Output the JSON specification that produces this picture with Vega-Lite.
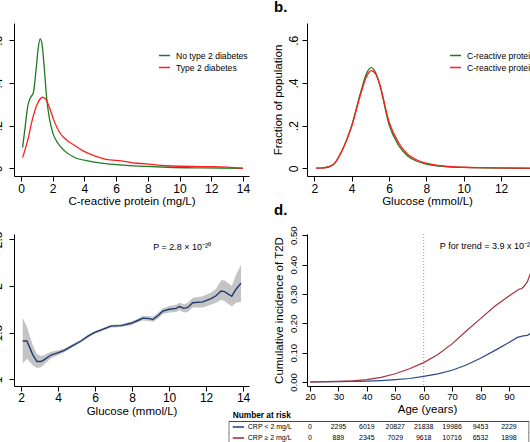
{
"$schema": "https://vega.github.io/schema/vega-lite/v6.json",
"background": "white",
"padding": {"left": -9, "top": 0, "right": 0, "bottom": 0},
"columns": 2,
"spacing": {"row": 58, "column": 58},
"bounds": "flush",
"resolve": {"scale": {"color": "independent"}, "legend": {"color": "independent"}},
"config": {
  "view": {"stroke": null},
  "font": "Liberation Sans",
  "axis": {"grid": false, "domainColor": "#000", "tickColor": "#000", "labelColor": "#000", "titleColor": "#000", "labelFont": "Liberation Sans", "titleFont": "Liberation Sans", "titleFontWeight": "normal", "labelFontSize": 12, "titleFontSize": 11.5, "tickSize": 5, "labelPadding": 2, "titlePadding": 1, "labelOverlap": false, "labelFlush": false, "labelSeparation": 0},
  "axisY": {"titlePadding": 4},
  "legend": {"orient": "none", "title": null, "symbolType": "stroke", "symbolSize": 121, "symbolStrokeWidth": 1.5, "labelFontSize": 8.6, "labelFont": "Liberation Sans", "labelColor": "#000", "labelOffset": 5, "rowPadding": 0, "padding": 0}
},
"datasets": {
  "crp": [
    {"grp": "No type 2 diabetes", "crp": 0.1, "dens": 0.097},
    {"grp": "No type 2 diabetes", "crp": 0.27, "dens": 0.198},
    {"grp": "No type 2 diabetes", "crp": 0.42, "dens": 0.288},
    {"grp": "No type 2 diabetes", "crp": 0.6, "dens": 0.331},
    {"grp": "No type 2 diabetes", "crp": 0.78, "dens": 0.354},
    {"grp": "No type 2 diabetes", "crp": 0.95, "dens": 0.46},
    {"grp": "No type 2 diabetes", "crp": 1.09, "dens": 0.565},
    {"grp": "No type 2 diabetes", "crp": 1.21, "dens": 0.607},
    {"grp": "No type 2 diabetes", "crp": 1.32, "dens": 0.585},
    {"grp": "No type 2 diabetes", "crp": 1.47, "dens": 0.47},
    {"grp": "No type 2 diabetes", "crp": 1.62, "dens": 0.33},
    {"grp": "No type 2 diabetes", "crp": 1.79, "dens": 0.235},
    {"grp": "No type 2 diabetes", "crp": 2.0, "dens": 0.167},
    {"grp": "No type 2 diabetes", "crp": 2.31, "dens": 0.12},
    {"grp": "No type 2 diabetes", "crp": 2.73, "dens": 0.083},
    {"grp": "No type 2 diabetes", "crp": 3.36, "dens": 0.052},
    {"grp": "No type 2 diabetes", "crp": 4.31, "dens": 0.034},
    {"grp": "No type 2 diabetes", "crp": 5.36, "dens": 0.022},
    {"grp": "No type 2 diabetes", "crp": 6.62, "dens": 0.014},
    {"grp": "No type 2 diabetes", "crp": 7.88, "dens": 0.009},
    {"grp": "No type 2 diabetes", "crp": 9.25, "dens": 0.005},
    {"grp": "No type 2 diabetes", "crp": 11.35, "dens": 0.002},
    {"grp": "No type 2 diabetes", "crp": 14, "dens": 0.0},
    {"grp": "Type 2 diabetes", "crp": 0.1, "dens": 0.05},
    {"grp": "Type 2 diabetes", "crp": 0.42, "dens": 0.13},
    {"grp": "Type 2 diabetes", "crp": 0.74, "dens": 0.235},
    {"grp": "Type 2 diabetes", "crp": 1.05, "dens": 0.305},
    {"grp": "Type 2 diabetes", "crp": 1.37, "dens": 0.333},
    {"grp": "Type 2 diabetes", "crp": 1.58, "dens": 0.322},
    {"grp": "Type 2 diabetes", "crp": 1.79, "dens": 0.286},
    {"grp": "Type 2 diabetes", "crp": 2.1, "dens": 0.22},
    {"grp": "Type 2 diabetes", "crp": 2.42, "dens": 0.17},
    {"grp": "Type 2 diabetes", "crp": 2.84, "dens": 0.135},
    {"grp": "Type 2 diabetes", "crp": 3.36, "dens": 0.108},
    {"grp": "Type 2 diabetes", "crp": 3.89, "dens": 0.083},
    {"grp": "Type 2 diabetes", "crp": 4.73, "dens": 0.056},
    {"grp": "Type 2 diabetes", "crp": 5.36, "dens": 0.042},
    {"grp": "Type 2 diabetes", "crp": 6.41, "dens": 0.034},
    {"grp": "Type 2 diabetes", "crp": 7.04, "dens": 0.026},
    {"grp": "Type 2 diabetes", "crp": 7.88, "dens": 0.021},
    {"grp": "Type 2 diabetes", "crp": 9.25, "dens": 0.012},
    {"grp": "Type 2 diabetes", "crp": 11.35, "dens": 0.008},
    {"grp": "Type 2 diabetes", "crp": 13.0, "dens": 0.006},
    {"grp": "Type 2 diabetes", "crp": 14, "dens": 0.001}
  ],
  "glu": [
    {"grp": "C-reactive protein < 2 mg/L", "g": 2.1, "dens": 0.001},
    {"grp": "C-reactive protein < 2 mg/L", "g": 2.5, "dens": 0.002},
    {"grp": "C-reactive protein < 2 mg/L", "g": 3.0, "dens": 0.016},
    {"grp": "C-reactive protein < 2 mg/L", "g": 3.5, "dens": 0.085},
    {"grp": "C-reactive protein < 2 mg/L", "g": 4.0, "dens": 0.2},
    {"grp": "C-reactive protein < 2 mg/L", "g": 4.5, "dens": 0.362},
    {"grp": "C-reactive protein < 2 mg/L", "g": 4.8, "dens": 0.445},
    {"grp": "C-reactive protein < 2 mg/L", "g": 5.05, "dens": 0.472},
    {"grp": "C-reactive protein < 2 mg/L", "g": 5.3, "dens": 0.445},
    {"grp": "C-reactive protein < 2 mg/L", "g": 5.5, "dens": 0.393},
    {"grp": "C-reactive protein < 2 mg/L", "g": 6.0, "dens": 0.205},
    {"grp": "C-reactive protein < 2 mg/L", "g": 6.5, "dens": 0.11},
    {"grp": "C-reactive protein < 2 mg/L", "g": 7.0, "dens": 0.058},
    {"grp": "C-reactive protein < 2 mg/L", "g": 7.5, "dens": 0.033},
    {"grp": "C-reactive protein < 2 mg/L", "g": 8.0, "dens": 0.02},
    {"grp": "C-reactive protein < 2 mg/L", "g": 9.0, "dens": 0.008},
    {"grp": "C-reactive protein < 2 mg/L", "g": 10.0, "dens": 0.004},
    {"grp": "C-reactive protein < 2 mg/L", "g": 11.0, "dens": 0.002},
    {"grp": "C-reactive protein < 2 mg/L", "g": 12.0, "dens": 0.001},
    {"grp": "C-reactive protein < 2 mg/L", "g": 14.0, "dens": 0.0},
    {"grp": "C-reactive protein ≥ 2 mg/L", "g": 2.1, "dens": 0.001},
    {"grp": "C-reactive protein ≥ 2 mg/L", "g": 2.5, "dens": 0.002},
    {"grp": "C-reactive protein ≥ 2 mg/L", "g": 3.0, "dens": 0.017},
    {"grp": "C-reactive protein ≥ 2 mg/L", "g": 3.5, "dens": 0.086},
    {"grp": "C-reactive protein ≥ 2 mg/L", "g": 4.0, "dens": 0.196},
    {"grp": "C-reactive protein ≥ 2 mg/L", "g": 4.5, "dens": 0.352},
    {"grp": "C-reactive protein ≥ 2 mg/L", "g": 4.8, "dens": 0.43},
    {"grp": "C-reactive protein ≥ 2 mg/L", "g": 5.05, "dens": 0.458},
    {"grp": "C-reactive protein ≥ 2 mg/L", "g": 5.3, "dens": 0.44},
    {"grp": "C-reactive protein ≥ 2 mg/L", "g": 5.5, "dens": 0.395},
    {"grp": "C-reactive protein ≥ 2 mg/L", "g": 6.0, "dens": 0.218},
    {"grp": "C-reactive protein ≥ 2 mg/L", "g": 6.5, "dens": 0.122},
    {"grp": "C-reactive protein ≥ 2 mg/L", "g": 7.0, "dens": 0.066},
    {"grp": "C-reactive protein ≥ 2 mg/L", "g": 7.5, "dens": 0.039},
    {"grp": "C-reactive protein ≥ 2 mg/L", "g": 8.0, "dens": 0.024},
    {"grp": "C-reactive protein ≥ 2 mg/L", "g": 9.0, "dens": 0.01},
    {"grp": "C-reactive protein ≥ 2 mg/L", "g": 10.0, "dens": 0.005},
    {"grp": "C-reactive protein ≥ 2 mg/L", "g": 11.0, "dens": 0.003},
    {"grp": "C-reactive protein ≥ 2 mg/L", "g": 12.0, "dens": 0.002},
    {"grp": "C-reactive protein ≥ 2 mg/L", "g": 14.0, "dens": 0.0}
  ],
  "orc": [
    {"g": 2.09, "est": 1.41, "lo": 1.17, "hi": 1.66},
    {"g": 2.32, "est": 1.41, "lo": 1.22, "hi": 1.56},
    {"g": 2.63, "est": 1.265, "lo": 1.15, "hi": 1.37},
    {"g": 2.86, "est": 1.19, "lo": 1.12, "hi": 1.27},
    {"g": 3.08, "est": 1.19, "lo": 1.13, "hi": 1.25},
    {"g": 3.26, "est": 1.21, "lo": 1.16, "hi": 1.26},
    {"g": 3.62, "est": 1.26, "lo": 1.225, "hi": 1.295},
    {"g": 4.02, "est": 1.285, "lo": 1.26, "hi": 1.31},
    {"g": 4.34, "est": 1.31, "lo": 1.29, "hi": 1.33},
    {"g": 4.79, "est": 1.36, "lo": 1.342, "hi": 1.378},
    {"g": 5.24, "est": 1.41, "lo": 1.395, "hi": 1.425},
    {"g": 5.6, "est": 1.46, "lo": 1.445, "hi": 1.475},
    {"g": 5.96, "est": 1.5, "lo": 1.485, "hi": 1.515},
    {"g": 6.41, "est": 1.535, "lo": 1.52, "hi": 1.55},
    {"g": 6.86, "est": 1.57, "lo": 1.555, "hi": 1.585},
    {"g": 7.41, "est": 1.575, "lo": 1.56, "hi": 1.59},
    {"g": 7.95, "est": 1.6, "lo": 1.58, "hi": 1.62},
    {"g": 8.31, "est": 1.63, "lo": 1.61, "hi": 1.65},
    {"g": 8.58, "est": 1.655, "lo": 1.63, "hi": 1.68},
    {"g": 8.94, "est": 1.65, "lo": 1.625, "hi": 1.675},
    {"g": 9.12, "est": 1.64, "lo": 1.615, "hi": 1.67},
    {"g": 9.39, "est": 1.68, "lo": 1.65, "hi": 1.71},
    {"g": 9.66, "est": 1.73, "lo": 1.7, "hi": 1.76},
    {"g": 10.02, "est": 1.75, "lo": 1.715, "hi": 1.785},
    {"g": 10.38, "est": 1.76, "lo": 1.72, "hi": 1.8},
    {"g": 10.56, "est": 1.78, "lo": 1.74, "hi": 1.82},
    {"g": 10.8, "est": 1.76, "lo": 1.715, "hi": 1.805},
    {"g": 11.01, "est": 1.77, "lo": 1.72, "hi": 1.82},
    {"g": 11.28, "est": 1.82, "lo": 1.77, "hi": 1.87},
    {"g": 11.82, "est": 1.83, "lo": 1.77, "hi": 1.89},
    {"g": 12.27, "est": 1.865, "lo": 1.8, "hi": 1.93},
    {"g": 12.54, "est": 1.895, "lo": 1.82, "hi": 1.97},
    {"g": 12.81, "est": 1.945, "lo": 1.85, "hi": 2.06},
    {"g": 12.99, "est": 1.94, "lo": 1.84, "hi": 2.06},
    {"g": 13.39, "est": 1.89, "lo": 1.78, "hi": 2.0},
    {"g": 13.62, "est": 1.965, "lo": 1.82, "hi": 2.12},
    {"g": 13.89, "est": 2.03, "lo": 1.83, "hi": 2.23}
  ],
  "inc": [
    {"grp": "CRP < 2 mg/L", "age": 20, "ci": 0.0},
    {"grp": "CRP < 2 mg/L", "age": 30, "ci": 0.001},
    {"grp": "CRP < 2 mg/L", "age": 40, "ci": 0.003},
    {"grp": "CRP < 2 mg/L", "age": 45, "ci": 0.005},
    {"grp": "CRP < 2 mg/L", "age": 50, "ci": 0.008},
    {"grp": "CRP < 2 mg/L", "age": 55, "ci": 0.012},
    {"grp": "CRP < 2 mg/L", "age": 60, "ci": 0.019},
    {"grp": "CRP < 2 mg/L", "age": 65, "ci": 0.028},
    {"grp": "CRP < 2 mg/L", "age": 70, "ci": 0.04},
    {"grp": "CRP < 2 mg/L", "age": 75, "ci": 0.058},
    {"grp": "CRP < 2 mg/L", "age": 80, "ci": 0.081},
    {"grp": "CRP < 2 mg/L", "age": 85, "ci": 0.107},
    {"grp": "CRP < 2 mg/L", "age": 90, "ci": 0.135},
    {"grp": "CRP < 2 mg/L", "age": 93, "ci": 0.152},
    {"grp": "CRP < 2 mg/L", "age": 95, "ci": 0.157},
    {"grp": "CRP < 2 mg/L", "age": 96.5, "ci": 0.159},
    {"grp": "CRP < 2 mg/L", "age": 98, "ci": 0.168},
    {"grp": "CRP < 2 mg/L", "age": 100, "ci": 0.175},
    {"grp": "CRP ≥ 2 mg/L", "age": 20, "ci": 0.0},
    {"grp": "CRP ≥ 2 mg/L", "age": 25, "ci": 0.001},
    {"grp": "CRP ≥ 2 mg/L", "age": 30, "ci": 0.002},
    {"grp": "CRP ≥ 2 mg/L", "age": 35, "ci": 0.004},
    {"grp": "CRP ≥ 2 mg/L", "age": 40, "ci": 0.008},
    {"grp": "CRP ≥ 2 mg/L", "age": 45, "ci": 0.016},
    {"grp": "CRP ≥ 2 mg/L", "age": 50, "ci": 0.028},
    {"grp": "CRP ≥ 2 mg/L", "age": 55, "ci": 0.045},
    {"grp": "CRP ≥ 2 mg/L", "age": 60, "ci": 0.066},
    {"grp": "CRP ≥ 2 mg/L", "age": 65, "ci": 0.094},
    {"grp": "CRP ≥ 2 mg/L", "age": 70, "ci": 0.13},
    {"grp": "CRP ≥ 2 mg/L", "age": 75, "ci": 0.174},
    {"grp": "CRP ≥ 2 mg/L", "age": 80, "ci": 0.216},
    {"grp": "CRP ≥ 2 mg/L", "age": 85, "ci": 0.258},
    {"grp": "CRP ≥ 2 mg/L", "age": 90, "ci": 0.293},
    {"grp": "CRP ≥ 2 mg/L", "age": 92, "ci": 0.306},
    {"grp": "CRP ≥ 2 mg/L", "age": 93.5, "ci": 0.316},
    {"grp": "CRP ≥ 2 mg/L", "age": 94.5, "ci": 0.318},
    {"grp": "CRP ≥ 2 mg/L", "age": 95.5, "ci": 0.328},
    {"grp": "CRP ≥ 2 mg/L", "age": 96.5, "ci": 0.342},
    {"grp": "CRP ≥ 2 mg/L", "age": 97.5, "ci": 0.368},
    {"grp": "CRP ≥ 2 mg/L", "age": 98.5, "ci": 0.4},
    {"grp": "CRP ≥ 2 mg/L", "age": 100, "ci": 0.45}
  ],
  "risk": [
    {"grp": "CRP < 2 mg/L", "age": 20, "n": "0"},
    {"grp": "CRP < 2 mg/L", "age": 30, "n": "2295"},
    {"grp": "CRP < 2 mg/L", "age": 40, "n": "6019"},
    {"grp": "CRP < 2 mg/L", "age": 50, "n": "20827"},
    {"grp": "CRP < 2 mg/L", "age": 60, "n": "21838"},
    {"grp": "CRP < 2 mg/L", "age": 70, "n": "19986"},
    {"grp": "CRP < 2 mg/L", "age": 80, "n": "9453"},
    {"grp": "CRP < 2 mg/L", "age": 90, "n": "2229"},
    {"grp": "CRP ≥ 2 mg/L", "age": 20, "n": "0"},
    {"grp": "CRP ≥ 2 mg/L", "age": 30, "n": "889"},
    {"grp": "CRP ≥ 2 mg/L", "age": 40, "n": "2345"},
    {"grp": "CRP ≥ 2 mg/L", "age": 50, "n": "7029"},
    {"grp": "CRP ≥ 2 mg/L", "age": 60, "n": "9618"},
    {"grp": "CRP ≥ 2 mg/L", "age": 70, "n": "10716"},
    {"grp": "CRP ≥ 2 mg/L", "age": 80, "n": "6532"},
    {"grp": "CRP ≥ 2 mg/L", "age": 90, "n": "1898"}
  ],
  "rows": [
    {"grp": "CRP < 2 mg/L"},
    {"grp": "CRP ≥ 2 mg/L"}
  ]
},
"concat": [
  {
    "width": 235, "height": 153,
    "data": {"name": "crp"},
    "mark": {"type": "line", "interpolate": "monotone", "strokeWidth": 1.3},
    "encoding": {
      "x": {"field": "crp", "type": "quantitative", "scale": {"domain": [-0.44, 14.38], "nice": false, "zero": false}, "axis": {"values": [0, 2, 4, 6, 8, 10, 12, 14], "title": "C-reactive protein (mg/L)"}},
      "y": {"field": "dens", "type": "quantitative", "scale": {"domain": [-0.036, 0.681], "nice": false, "zero": false}, "axis": {"values": [0, 0.2, 0.4, 0.6], "labelExpr": "datum.value == 0 ? '0' : replace(format(datum.value, '.1f'), '0.', '.')", "title": null, "labelPadding": 5, "labelAngle": 270, "labelAlign": "center", "labelBaseline": "bottom"}},
      "color": {"field": "grp", "type": "nominal", "scale": {"domain": ["No type 2 diabetes", "Type 2 diabetes"], "range": ["#1f7a22", "#ff1f1f"]}, "legend": {"legendX": 144, "legendY": 26}}
    }
  },
  {
    "width": 240, "height": 153,
    "title": {"text": "b.", "anchor": "start", "frame": "group", "dx": -33, "fontSize": 15, "fontWeight": "bold", "font": "Liberation Sans", "offset": 8, "color": "#000"},
    "data": {"name": "glu"},
    "mark": {"type": "line", "interpolate": "monotone", "strokeWidth": 1.3},
    "encoding": {
      "x": {"field": "g", "type": "quantitative", "scale": {"domain": [1.61, 14.46], "nice": false, "zero": false}, "axis": {"values": [2, 4, 6, 8, 10, 12, 14], "title": "Glucose (mmol/L)"}},
      "y": {"field": "dens", "type": "quantitative", "scale": {"domain": [-0.036, 0.681], "nice": false, "zero": false}, "axis": {"values": [0, 0.2, 0.4, 0.6], "labelExpr": "datum.value == 0 ? '0' : replace(format(datum.value, '.1f'), '0.', '.')", "title": "Fraction of population", "labelAngle": 270, "labelAlign": "center", "labelBaseline": "bottom"}},
      "color": {"field": "grp", "type": "nominal", "scale": {"domain": ["C-reactive protein < 2 mg/L", "C-reactive protein ≥ 2 mg/L"], "range": ["#1f7a22", "#ff1f1f"]}, "legend": {"legendX": 142, "legendY": 26}}
    }
  },
  {
    "width": 235, "height": 152,
    "data": {"name": "orc"},
    "layer": [
      {
        "mark": {"type": "area", "color": "#c4c4c4", "opacity": 1},
        "encoding": {
          "x": {"field": "g", "type": "quantitative", "scale": {"domain": [1.62, 14.32], "nice": false, "zero": false}, "axis": {"values": [2, 4, 6, 8, 10, 12, 14], "title": "Glucose (mmol/L)", "labelPadding": 1, "titlePadding": 2, "labelOverlap": false}},
          "y": {"field": "lo", "type": "quantitative", "scale": {"domain": [0.928, 2.557], "nice": false, "zero": false}, "axis": {"values": [1, 1.5, 2, 2.5], "format": "~g", "title": null, "labelPadding": 5, "labelAngle": 270, "labelAlign": "center", "labelBaseline": "bottom", "labelOverlap": false}},
          "y2": {"field": "hi"}
        }
      },
      {
        "mark": {"type": "line", "color": "#1d3a72", "strokeWidth": 1.4},
        "encoding": {
          "x": {"field": "g", "type": "quantitative", "axis": {"values": [2, 4, 6, 8, 10, 12, 14], "title": "Glucose (mmol/L)", "labelPadding": 1, "titlePadding": 2, "labelOverlap": false}},
          "y": {"field": "est", "type": "quantitative", "axis": {"values": [1, 1.5, 2, 2.5], "format": "~g", "title": null, "labelPadding": 5, "labelAngle": 270, "labelAlign": "center", "labelBaseline": "bottom", "labelOverlap": false}}
        }
      },
      {
        "data": {"values": [{"lab": "P = 2.8 × 10⁻²⁰"}]},
        "mark": {"type": "text", "align": "left", "baseline": "middle", "fontSize": 9, "font": "Liberation Sans", "color": "#000"},
        "encoding": {
          "x": {"datum": 9.14, "type": "quantitative", "axis": {"values": [2, 4, 6, 8, 10, 12, 14], "title": "Glucose (mmol/L)", "labelPadding": 1, "titlePadding": 2, "labelOverlap": false}},
          "y": {"datum": 2.42, "type": "quantitative", "axis": {"values": [1, 1.5, 2, 2.5], "format": "~g", "title": null, "labelPadding": 5, "labelAngle": 270, "labelAlign": "center", "labelBaseline": "bottom", "labelOverlap": false}},
          "text": {"field": "lab"}
        }
      }
    ]
  },
  {
    "width": 240, "height": 152,
    "title": {"text": "d.", "anchor": "start", "frame": "group", "dx": -33, "fontSize": 15, "fontWeight": "bold", "font": "Liberation Sans", "offset": 8, "color": "#000"},
    "layer": [
      {
        "layer": [
          {
            "data": {"name": "inc"},
            "mark": {"type": "line", "strokeWidth": 1.2},
            "encoding": {
              "x": {"field": "age", "type": "quantitative", "scale": {"domain": [18.94, 103.4], "nice": false, "zero": false}, "axis": {"values": [20, 30, 40, 50, 60, 70, 80, 90, 100], "title": "Age (years)", "labelFontSize": 9.5, "labelPadding": 0, "titlePadding": 3, "labelOverlap": false}},
              "y": {"field": "ci", "type": "quantitative", "scale": {"domain": [-0.0136, 0.5044], "nice": false, "zero": false}, "axis": {"values": [0, 0.1, 0.2, 0.3, 0.4, 0.5], "format": ".2f", "labelFontSize": 9.5, "title": "Cumulative incidence of T2D", "labelPadding": 4, "labelAngle": 270, "labelAlign": "center", "labelBaseline": "bottom", "labelOverlap": false}},
              "color": {"field": "grp", "type": "nominal", "scale": {"domain": ["CRP < 2 mg/L", "CRP ≥ 2 mg/L"], "range": ["#2b4887", "#a4333b"]}, "legend": null}
            }
          },
          {
            "data": {"values": [{}]},
            "mark": {"type": "rule", "color": "#999", "strokeDash": [1, 2], "strokeWidth": 1},
            "encoding": {"x": {"datum": 60, "type": "quantitative", "axis": {"values": [20, 30, 40, 50, 60, 70, 80, 90, 100], "title": "Age (years)", "labelFontSize": 9.5, "labelPadding": 0, "titlePadding": 3, "labelOverlap": false}}}
          },
          {
            "data": {"values": [{"lab": "P for trend = 3.9 x 10⁻²¹⁶"}]},
            "mark": {"type": "text", "align": "left", "baseline": "middle", "fontSize": 9, "font": "Liberation Sans", "color": "#000"},
            "encoding": {
              "x": {"datum": 65.7, "type": "quantitative", "axis": {"values": [20, 30, 40, 50, 60, 70, 80, 90, 100], "title": "Age (years)", "labelFontSize": 9.5, "labelPadding": 0, "titlePadding": 3, "labelOverlap": false}},
              "y": {"datum": 0.464, "type": "quantitative", "axis": {"values": [0, 0.1, 0.2, 0.3, 0.4, 0.5], "format": ".2f", "labelFontSize": 9.5, "title": "Cumulative incidence of T2D", "labelPadding": 4, "labelAngle": 270, "labelAlign": "center", "labelBaseline": "bottom", "labelOverlap": false}},
              "text": {"field": "lab"}
            }
          }
        ]
      },
      {
        "layer": [
          {
            "data": {"name": "risk"},
            "mark": {"type": "text", "fontSize": 7, "font": "Liberation Sans", "color": "#000", "baseline": "middle"},
            "encoding": {
              "x": {"field": "age", "type": "quantitative", "axis": {"values": [20, 30, 40, 50, 60, 70, 80, 90, 100], "title": "Age (years)", "labelFontSize": 9.5, "labelPadding": 0, "titlePadding": 3, "labelOverlap": false}},
              "y": {"field": "grp", "type": "nominal", "bandPosition": 0.5, "scale": {"type": "band", "domain": ["Number at risk", "CRP < 2 mg/L", "CRP ≥ 2 mg/L"], "range": [176.5, 209.5], "paddingInner": 0, "paddingOuter": 0}, "axis": null},
              "text": {"field": "n"}
            }
          },
          {
            "data": {"values": [{"lab": "Number at risk"}]},
            "mark": {"type": "text", "fontSize": 8.3, "fontWeight": "bold", "font": "Liberation Sans", "color": "#000", "align": "left", "baseline": "middle"},
            "encoding": {
              "x": {"datum": -7.2, "type": "quantitative", "axis": {"values": [20, 30, 40, 50, 60, 70, 80, 90, 100], "title": "Age (years)", "labelFontSize": 9.5, "labelPadding": 0, "titlePadding": 3, "labelOverlap": false}},
              "y": {"field": "lab", "type": "nominal", "bandPosition": 0.5, "axis": null},
              "text": {"field": "lab"}
            }
          },
          {
            "data": {"values": [{}]},
            "mark": {"type": "rule", "color": "#444", "strokeWidth": 1},
            "encoding": {
              "x": {"datum": -8.5, "type": "quantitative", "axis": {"values": [20, 30, 40, 50, 60, 70, 80, 90, 100], "title": "Age (years)", "labelFontSize": 9.5, "labelPadding": 0, "titlePadding": 3, "labelOverlap": false}},
              "x2": {"datum": 97.0},
              "y": {"datum": "CRP < 2 mg/L", "type": "nominal", "bandPosition": 0, "axis": null}
            }
          },
          {
            "data": {"values": [{}]},
            "mark": {"type": "rule", "color": "#444", "strokeWidth": 1},
            "encoding": {
              "x": {"datum": -8.5, "type": "quantitative", "axis": {"values": [20, 30, 40, 50, 60, 70, 80, 90, 100], "title": "Age (years)", "labelFontSize": 9.5, "labelPadding": 0, "titlePadding": 3, "labelOverlap": false}},
              "x2": {"datum": 97.0},
              "y": {"datum": "CRP ≥ 2 mg/L", "type": "nominal", "bandPosition": 0.95, "axis": null}
            }
          },
          {
            "data": {"name": "rows"},
            "mark": {"type": "tick", "orient": "vertical", "color": "#444", "thickness": 1, "size": 11.5},
            "encoding": {
              "x": {"datum": -8.5, "type": "quantitative", "axis": {"values": [20, 30, 40, 50, 60, 70, 80, 90, 100], "title": "Age (years)", "labelFontSize": 9.5, "labelPadding": 0, "titlePadding": 3, "labelOverlap": false}},
              "y": {"field": "grp", "type": "nominal", "axis": null}
            }
          },
          {
            "data": {"name": "rows"},
            "mark": {"type": "tick", "orient": "vertical", "color": "#444", "thickness": 1, "size": 11.5},
            "encoding": {
              "x": {"datum": 97.0, "type": "quantitative", "axis": {"values": [20, 30, 40, 50, 60, 70, 80, 90, 100], "title": "Age (years)", "labelFontSize": 9.5, "labelPadding": 0, "titlePadding": 3, "labelOverlap": false}},
              "y": {"field": "grp", "type": "nominal", "axis": null}
            }
          },
          {
            "data": {"name": "rows"},
            "mark": {"type": "text", "fontSize": 7, "font": "Liberation Sans", "color": "#000", "align": "left", "baseline": "middle"},
            "encoding": {
              "x": {"datum": -1.9, "type": "quantitative", "axis": {"values": [20, 30, 40, 50, 60, 70, 80, 90, 100], "title": "Age (years)", "labelFontSize": 9.5, "labelPadding": 0, "titlePadding": 3, "labelOverlap": false}},
              "y": {"field": "grp", "type": "nominal", "bandPosition": 0.5, "axis": null},
              "text": {"field": "grp"}
            }
          },
          {
            "data": {"name": "rows"},
            "mark": {"type": "rule", "strokeWidth": 1.6},
            "encoding": {
              "x": {"datum": -7.2, "type": "quantitative", "axis": {"values": [20, 30, 40, 50, 60, 70, 80, 90, 100], "title": "Age (years)", "labelFontSize": 9.5, "labelPadding": 0, "titlePadding": 3, "labelOverlap": false}},
              "x2": {"datum": -3.2},
              "y": {"field": "grp", "type": "nominal", "bandPosition": 0.5, "axis": null},
              "color": {"field": "grp", "type": "nominal", "legend": null}
            }
          }
        ]
      }
    ],
    "resolve": {"scale": {"y": "independent"}}
  }
]
}
